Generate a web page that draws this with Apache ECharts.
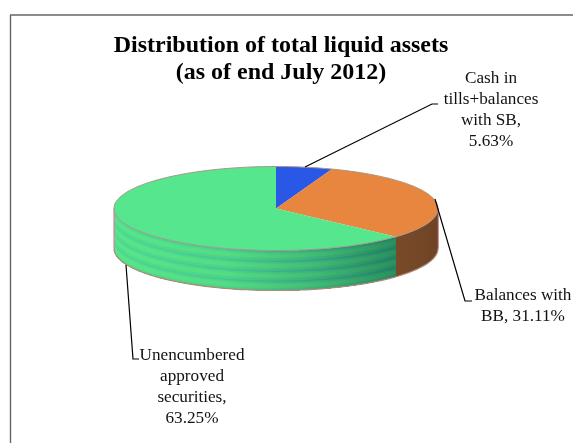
<!DOCTYPE html>
<html>
<head>
<meta charset="utf-8">
<style>html,body{margin:0;padding:0;background:#fff}#chart{width:573px;height:443px}</style>
<script src="https://cdn.jsdelivr.net/npm/echarts@6/dist/echarts.min.js"></script>
</head>
<body>
<div id="chart"></div>
<script>
// Share of total liquid assets, clockwise from twelve o'clock
const categories = ['Cash in\ntills+balances\nwith SB,', 'Balances with\nBB,', 'Unencumbered\napproved\nsecurities,'];
const values = [5.63, 31.11, 63.25];
const titleLines = ['Distribution of total liquid assets', '(as of end July 2012)'];

const topColors = ['#2A58E6', '#E8853E', '#56E68E'];
const FONT = '"Liberation Serif", "Times New Roman", serif';

// Flattened disc geometry
const disc = { cx: 276, cy: 208.5, rx: 162, ry: 42, depth: 40 };

// Leader lines and label anchors per slice
const leaders = [
  [[305, 167], [432, 104], [438, 104]],
  [[435, 199], [465, 301], [472, 301]],
  [[126, 265], [133, 359], [139, 359]]
];
const labelStyle = [
  { x: 491, y: 68, align: 'center' },
  { x: 523, y: 285, align: 'center' },
  { x: 192, y: 345, align: 'center' }
];

const total = values.reduce((a, b) => a + b, 0);

function rimPoint(deg, offset) {
  const t = deg * Math.PI / 180;
  return [disc.cx + disc.rx * Math.sin(t), disc.cy - disc.ry * Math.cos(t) + offset];
}
function arcPoints(from, to, offset) {
  const pts = [];
  const n = Math.max(2, Math.ceil(Math.abs(to - from) / 1.5));
  for (let i = 0; i <= n; i++) pts.push(rimPoint(from + (to - from) * i / n, offset));
  return pts;
}
function band(from, to, off0, off1) {
  return arcPoints(from, to, off0).concat(arcPoints(to, from, off1));
}
function hGrad(stops) {
  return new echarts.graphic.LinearGradient(disc.cx - disc.rx, 0, disc.cx + disc.rx, 0,
    stops.map(s => ({ offset: s[0], color: s[1] })), true);
}

// Wall shading: bright on the left, darkening towards the orange slice
const greenShades = [
  hGrad([[0, '#58E68A'], [0.35, '#54DC82'], [0.6, '#44BE74'], [0.88, '#2A8E5C'], [1, '#268256']]),
  hGrad([[0, '#52DE8E'], [0.35, '#4CD28A'], [0.6, '#3CB47C'], [0.88, '#238660'], [1, '#207A5A']]),
  hGrad([[0, '#4CD594'], [0.35, '#44C690'], [0.6, '#34A684'], [0.88, '#1E7A64'], [1, '#1C725C']])
];
const stripeSteps = [[0, 2], [0.14, 1], [0.32, 0], [0.74, 1]];
const brownFill = hGrad([[0.75, '#85502A'], [1, '#6E4426']]);

function renderSlice(params, api) {
  const i = params.dataIndex;
  const v = api.value(0);
  let before = 0;
  for (let k = 0; k < i; k++) before += values[k];
  const a = before / total * 360;
  const b = (before + v) / total * 360;
  const children = [];

  // Visible outer wall: the lower half of the rim only
  const wa = Math.max(a, 90), wb = Math.min(b, 270);
  if (wb > wa) {
    if (i === 2) {
      // Each stripe step paints down to the base, so the next one covers it without seams
      const stripes = 4, h = disc.depth / stripes;
      for (let s = 0; s < stripes; s++) {
        stripeSteps.forEach(step => {
          children.push({ type: 'polygon',
            shape: { points: band(wa, wb, (s + step[0]) * h, disc.depth) },
            style: { fill: greenShades[step[1]] } });
        });
      }
    } else {
      children.push({ type: 'polygon', shape: { points: band(wa, wb, 0, disc.depth) },
        style: { fill: brownFill } });
    }
    // Soft outline along the bottom of the wall and down its far end
    children.push({ type: 'polyline', shape: { points: arcPoints(wa, wb, disc.depth) },
      style: { stroke: '#B08878', lineWidth: 1.2, fill: null } });
    const endDeg = i === 2 ? 270 : 90;
    children.push({ type: 'polyline', shape: { points: [rimPoint(endDeg, 0), rimPoint(endDeg, disc.depth)] },
      style: { stroke: i === 2 ? '#E878A0' : '#A05050', lineWidth: 1.2, fill: null } });
  }

  // Top face
  children.push({ type: 'polygon',
    shape: { points: [[disc.cx, disc.cy]].concat(arcPoints(a, b, 0)) },
    style: { fill: topColors[i] } });
  children.push({ type: 'polyline', shape: { points: arcPoints(a, b, 0) },
    style: { stroke: '#A89888', lineWidth: 1, fill: null } });

  // Leader line and value label
  children.push({ type: 'polyline', shape: { points: leaders[i] },
    style: { stroke: '#000', lineWidth: 1.2, fill: null } });
  const sep = i === 1 ? ' ' : '\n';
  children.push({ type: 'text', x: labelStyle[i].x, y: labelStyle[i].y,
    style: { text: categories[i] + sep + v.toFixed(2) + '%', fill: '#111',
      font: '17.2px ' + FONT, lineHeight: 21, align: labelStyle[i].align, verticalAlign: 'top' } });

  return { type: 'group', children };
}

const titleStyle = { fontFamily: FONT, fontWeight: 'bold', fontSize: 24, color: '#000' };

const chart = echarts.init(document.getElementById('chart'), null, { renderer: 'canvas' });
chart.setOption({
  animation: false,
  backgroundColor: '#fff',
  title: [
    { text: titleLines[0], left: 276, top: 29, textAlign: 'center', textStyle: titleStyle },
    { text: titleLines[1], left: 276, top: 56, textAlign: 'center', textStyle: titleStyle }
  ],
  graphic: [
    { type: 'line', shape: { x1: 10, y1: 15, x2: 573, y2: 15 }, style: { stroke: '#666', lineWidth: 1.4 } },
    { type: 'line', shape: { x1: 10.5, y1: 15, x2: 10.5, y2: 443 }, style: { stroke: '#666', lineWidth: 1.4 } }
  ],
  series: [{
    type: 'custom',
    coordinateSystem: 'none',
    silent: true,
    renderItem: renderSlice,
    data: values.map(v => [v])
  }]
});
</script>
</body>
</html>
